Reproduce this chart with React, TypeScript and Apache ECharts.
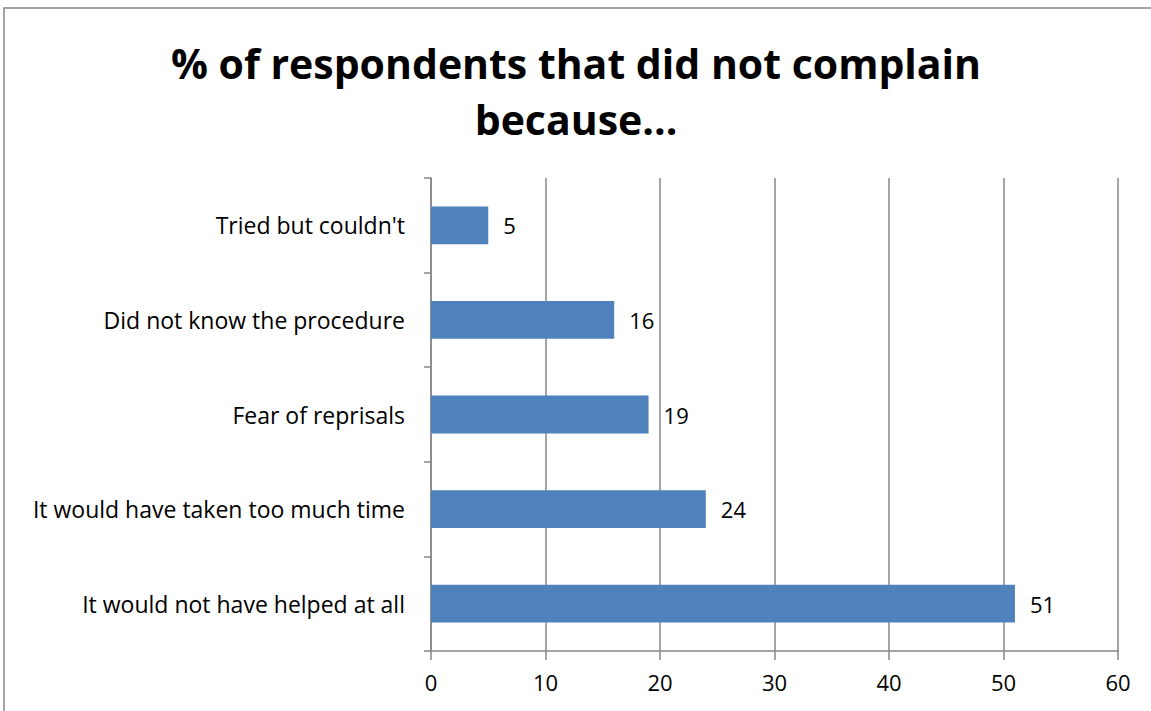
import React, { useEffect, useRef } from "react";
import * as echarts from "echarts";

const categories = [
  "Tried but couldn't",
  "Did not know the procedure",
  "Fear of reprisals",
  "It would have taken too much time",
  "It would not have helped at all",
];
const values = [5, 16, 19, 24, 51];
const titleText = "% of respondents that did not complain\nbecause...";

export default function App() {
  const ref = useRef<HTMLDivElement>(null);
  useEffect(() => {
    if (!ref.current) return;
    const chart = echarts.init(ref.current, null, { renderer: "svg" });
    const font = "Open Sans";
    chart.setOption({
      animation: false,
      backgroundColor: "#ffffff",
      textStyle: { fontFamily: font },
      title: {
        text: titleText,
        left: 571,
        top: 30,
        textAlign: "center",
        textStyle: {
          fontFamily: font,
          fontSize: 41,
          fontWeight: "bold",
          color: "#000",
          lineHeight: 56,
        },
      },
      graphic: [
        {
          type: "rect",
          shape: { x: 4, y: 8, width: 1170, height: 730 },
          style: { fill: "none", stroke: "#868686", lineWidth: 1.5 },
          silent: true,
        },
      ],
      grid: { left: 431, right: 33, top: 178, bottom: 60, containLabel: false },
      xAxis: {
        type: "value",
        min: 0,
        max: 60,
        interval: 10,
        axisLine: { show: true, lineStyle: { color: "#868686", width: 1.5 } },
        axisTick: { show: true, length: 9, lineStyle: { color: "#868686", width: 1.5 } },
        splitLine: { show: true, lineStyle: { color: "#868686", width: 1.5 } },
        axisLabel: { color: "#000", fontSize: 22, margin: 20, fontFamily: font },
      },
      yAxis: {
        type: "category",
        data: categories,
        inverse: true,
        axisLine: { show: true, lineStyle: { color: "#868686", width: 1.5 } },
        axisTick: { show: true, length: 7, lineStyle: { color: "#868686", width: 1.5 } },
        axisLabel: { color: "#000", fontSize: 23, margin: 26, fontFamily: font },
        splitLine: { show: false },
      },
      series: [
        {
          type: "bar",
          data: values,
          barCategoryGap: "60%",
          itemStyle: { color: "#4F81BD" },
          label: {
            show: true,
            position: "right",
            distance: 15,
            color: "#000",
            fontSize: 22,
            fontFamily: font,
          },
        },
      ],
    });
    return () => chart.dispose();
  }, []);
  return (
    <div
      ref={ref}
      style={{ position: "absolute", left: 0, top: 0, width: 1151, height: 711 }}
    />
  );
}
